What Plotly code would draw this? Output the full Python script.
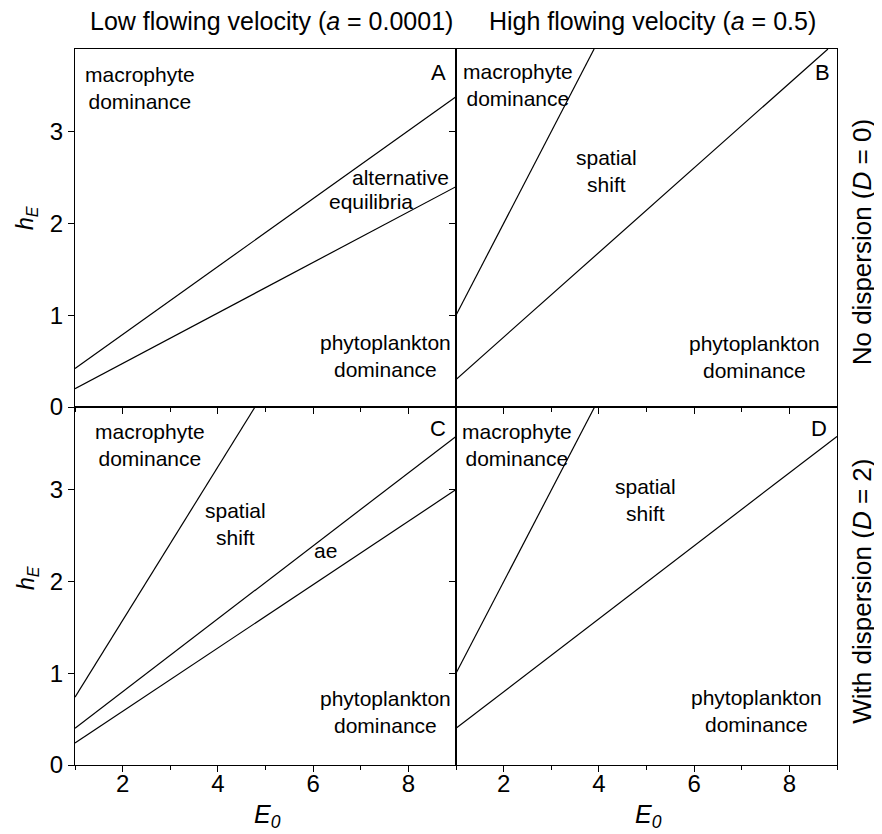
import plotly.graph_objects as go

# ---------------- data ----------------
E0_range = [1, 9]
hE_range = [0, 3.9]

# Panel A (low velocity, D=0)
A_upper_E0 = [1, 9]
A_upper_hE = [0.42, 3.38]
A_lower_E0 = [1, 9]
A_lower_hE = [0.20, 2.40]
# Panel B (high velocity, D=0)
B_steep_E0 = [1, 3.90]
B_steep_hE = [1.00, 3.90]
B_shallow_E0 = [1, 8.81]
B_shallow_hE = [0.30, 3.90]
# Panel C (low velocity, D=2)
C_steep_E0 = [1, 4.78]
C_steep_hE = [0.74, 3.90]
C_mid_E0 = [1, 9]
C_mid_hE = [0.40, 3.58]
C_low_E0 = [1, 9]
C_low_hE = [0.24, 3.00]
# Panel D (high velocity, D=2)
D_steep_E0 = [1, 3.91]
D_steep_hE = [1.00, 3.90]
D_shallow_E0 = [1, 9]
D_shallow_hE = [0.40, 3.58]

x_ticks = [2, 4, 6, 8]
y_ticks = [0, 1, 2, 3]

col_titles = ["Low flowing velocity (<i>a</i> = 0.0001)",
              "High flowing velocity (<i>a</i> = 0.5)"]
row_titles = ["No dispersion (<i>D</i> = 0)",
              "With dispersion (<i>D</i> = 2)"]
panel_letters = ["A", "B", "C", "D"]

FONT = "Liberation Sans, Arial, sans-serif"
TXT = 21

fig = go.Figure()

panels = {
    1: [(A_upper_E0, A_upper_hE), (A_lower_E0, A_lower_hE)],
    2: [(B_steep_E0, B_steep_hE), (B_shallow_E0, B_shallow_hE)],
    3: [(C_steep_E0, C_steep_hE), (C_mid_E0, C_mid_hE), (C_low_E0, C_low_hE)],
    4: [(D_steep_E0, D_steep_hE), (D_shallow_E0, D_shallow_hE)],
}
for k, lines in panels.items():
    xs = "x" if k == 1 else f"x{k}"
    ys = "y" if k == 1 else f"y{k}"
    for ex, hy in lines:
        fig.add_trace(go.Scatter(x=ex, y=hy, mode="lines", xaxis=xs, yaxis=ys,
                                 line=dict(color="black", width=1.2),
                                 showlegend=False, hoverinfo="skip", cliponaxis=True))

xdom = {1: [0, 0.5], 2: [0.5, 1], 3: [0, 0.5], 4: [0.5, 1]}
ydom = {1: [0.5, 1], 2: [0.5, 1], 3: [0, 0.5], 4: [0, 0.5]}

def xax(k):
    return dict(domain=xdom[k], range=E0_range, anchor="y" if k == 1 else f"y{k}",
                showgrid=False, zeroline=False, showline=True, mirror=True,
                linecolor="black", linewidth=1.3,
                ticks="outside", ticklen=6, tickwidth=1.2, tickcolor="black",
                tickvals=x_ticks, showticklabels=(k >= 3),
                ticklabelstandoff=-9,
                tickfont=dict(family=FONT, size=24, color="black"),
                minor=dict(ticks="outside", ticklen=3.5, tickwidth=1.2,
                           tickcolor="black", dtick=1, tick0=1, showgrid=False),
                fixedrange=True)

def yax(k):
    return dict(domain=ydom[k], range=hE_range, anchor="x" if k == 1 else f"x{k}",
                showgrid=False, zeroline=False, showline=True, mirror=True,
                linecolor="black", linewidth=1.3,
                ticks="outside", ticklen=6, tickwidth=1.2, tickcolor="black",
                tickvals=y_ticks, showticklabels=(k in (1, 3)),
                tickfont=dict(family=FONT, size=24, color="black"),
                fixedrange=True)

layout = {}
for k in range(1, 5):
    sx = "" if k == 1 else str(k)
    layout[f"xaxis{sx}"] = xax(k)
    layout[f"yaxis{sx}"] = yax(k)

anns = []
def A(text, x, y, xref, yref, size=TXT, xanchor="center", yanchor="middle", **kw):
    d = dict(text=text, x=x, y=y, xref=xref, yref=yref, showarrow=False,
             xanchor=xanchor, yanchor=yanchor,
             font=dict(family=FONT, size=size, color="black"), **kw)
    anns.append(d)

# column titles
A(col_titles[0], 0.258, 1.0, "paper", "paper", size=25, yshift=28)
A(col_titles[1], 0.758, 1.0, "paper", "paper", size=25, yshift=28)
# row titles
A(row_titles[0], 1.0, 0.730, "paper", "paper", size=26, textangle=-90, xshift=25)
A(row_titles[1], 1.0, 0.242, "paper", "paper", size=26, textangle=-90, xshift=25)
# axis titles
A("<i>h<sub>E</sub></i>", 0, 0.528, "x domain", "y domain", size=23,
  textangle=-90, xshift=-48)
A("<i>h<sub>E</sub></i>", 0, 0.522, "x3 domain", "y3 domain", size=23,
  textangle=-90, xshift=-48)
A("<i>E<sub>0</sub></i>", 0.505, 0, "x3 domain", "y3 domain", size=25, yshift=-51)
A("<i>E<sub>0</sub></i>", 0.505, 0, "x4 domain", "y4 domain", size=25, yshift=-51)

# panel letters
letter_pos = [(0.980, 0.975), (0.988, 0.975), (0.978, 0.98), (0.980, 0.98)]
for k, letter in enumerate(panel_letters, start=1):
    sx = "" if k == 1 else str(k)
    lx, ly = letter_pos[k - 1]
    A(letter, lx, ly, f"x{sx} domain", f"y{sx} domain", size=22,
      xanchor="right", yanchor="top")

# region labels (data coordinates)
A("macrophyte<br>dominance", 2.36, 3.48, "x", "y")
A("alternative", 7.84, 2.50, "x", "y")
A("equilibria", 7.21, 2.24, "x", "y")
A("phytoplankton<br>dominance", 7.51, 0.56, "x", "y")

A("macrophyte<br>dominance", 2.30, 3.51, "x2", "y2")
A("spatial<br>shift", 4.16, 2.57, "x2", "y2")
A("phytoplankton<br>dominance", 7.27, 0.54, "x2", "y2")

A("macrophyte<br>dominance", 2.57, 3.49, "x3", "y3")
A("spatial<br>shift", 4.36, 2.63, "x3", "y3")
A("ae", 6.25, 2.34, "x3", "y3")
A("phytoplankton<br>dominance", 7.51, 0.58, "x3", "y3")

A("macrophyte<br>dominance", 2.29, 3.49, "x4", "y4")
A("spatial<br>shift", 4.98, 2.89, "x4", "y4")
A("phytoplankton<br>dominance", 7.31, 0.59, "x4", "y4")

# the page adds an 8px body margin, so the figure is 8px smaller and shifted
fig.update_layout(
    width=874, height=826,
    margin=dict(l=67, r=44.5, t=41, b=69),
    paper_bgcolor="white", plot_bgcolor="white",
    font=dict(family=FONT, color="black"),
    annotations=anns,
    showlegend=False,
    **layout,
)

fig.write_html("out.html")
